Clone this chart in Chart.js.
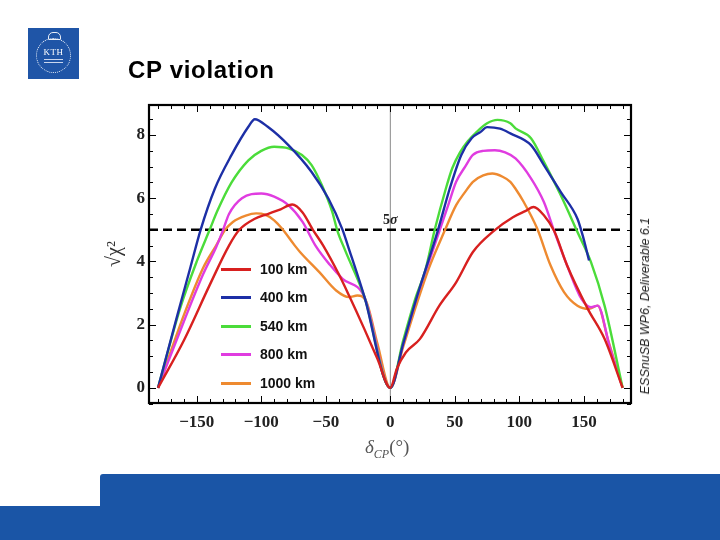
<!DOCTYPE html>
<html>
<head>
<meta charset="utf-8">
<script src="https://cdn.jsdelivr.net/npm/chart.js@4.4.1/dist/chart.umd.min.js"></script>
<style>
  body { margin: 0; background: #fff; }
  #slide { position: relative; width: 720px; height: 540px; overflow: hidden; background: #fff; }
  #c { position: absolute; left: 0; top: 0; }
  .logo { position: absolute; left: 28px; top: 28px; width: 51px; height: 51px; background: #1f55a7; }
  .logo .ring { position: absolute; left: 8px; top: 10px; width: 33px; height: 33px; border: 1.5px dotted #e8eef8; border-radius: 50%; }
  .logo .kth { position: absolute; left: 0; width: 51px; top: 19px; text-align: center; color: #fff; font: 9px "Liberation Serif", serif; letter-spacing: 0.5px; }
  .logo .sub { position: absolute; left: 16px; width: 19px; height: 1px; background: #c9d6ee; }
  .logo .crown { position: absolute; left: 20px; top: 4px; width: 11px; height: 6px; border: 1px solid #e8eef8; border-radius: 5px 5px 1px 1px; }
  .title { position: absolute; left: 128px; top: 58px; font: bold 24px "Liberation Sans", Arial, sans-serif; letter-spacing: 0.7px; line-height: 24px; color: #000; }
  .barTop { position: absolute; left: 100px; top: 474px; width: 620px; height: 66px; background: #1a55a6; border-top-left-radius: 3px; }
  .barLow { position: absolute; left: 0; top: 506px; width: 720px; height: 34px; background: #1a55a6; }
  .legend { position: absolute; left: 221px; top: 0; }
  .legend .row { position: absolute; left: 0; width: 120px; height: 20px; }
  .legend .sw { position: absolute; left: 0; top: 8px; width: 30px; height: 3px; }
  .legend .lb { position: absolute; left: 39px; top: 1px; font: bold 14px "Liberation Sans", Arial, sans-serif; color: #111; white-space: nowrap; }
  .xtitle { position: absolute; left: 365px; top: 436px; font: italic 19px "Liberation Serif", serif; color: #555; }
  .xtitle sub { font-size: 12px; }
  .xtitle span { font-style: normal; }
  .sigma { position: absolute; left: 383px; top: 212px; font: bold 14px "Liberation Serif", serif; color: #222; }
  .sigma i { font-style: italic; }
  .side { position: absolute; left: 645px; top: 306px; transform: translate(-50%, -50%) rotate(-90deg); font: italic 12.5px "Liberation Sans", Arial, sans-serif; color: #222; white-space: nowrap; }
</style>
</head>
<body>
<div id="slide">
  <canvas id="c" width="720" height="540"></canvas>
  <div class="logo">
    <div class="crown"></div>
    <div class="ring"></div>
    <div class="kth">KTH</div>
    <div class="sub" style="top:31px"></div>
    <div class="sub" style="top:34px"></div>
  </div>
  <div class="title">CP violation</div>
  <div class="sigma">5<i>σ</i></div>
  <div class="legend" id="legend"></div>
  <div class="xtitle">δ<sub>CP</sub><span>(°)</span></div>
  <div class="side">ESSnuSB WP6, Deliverable 6.1</div>
  <div class="barTop"></div>
  <div class="barLow"></div>
</div>
<script>
// δCP (deg) vs sqrt(chi^2)
const km100 = [[-180,0],[-160,1.5],[-140,3.25],[-125,4.5],[-117,5.0],[-105,5.35],[-95,5.5],[-85,5.65],[-76,5.8],[-68,5.55],[-60,5.0],[-52,4.5],[-40,3.6],[-32,2.92],[-20,1.85],[-10,0.92],[0,0],
  [5,0.6],[12,1.12],[23,1.55],[38,2.6],[51,3.34],[64,4.3],[80,4.96],[95,5.4],[105,5.6],[111,5.72],[119,5.46],[127,4.96],[137,3.87],[153,2.5],[166,1.55],[180,0]];
const km400 = [[-180,0],[-165,2.3],[-155,3.8],[-147,5.0],[-136,6.3],[-123,7.37],[-110,8.26],[-105,8.5],[-95,8.26],[-79,7.68],[-61,6.83],[-48,5.99],[-37,5.0],[-33,4.51],[-20,2.87],[0,0],
  [10,1.4],[20,2.8],[37,5.0],[46,6.3],[55,7.37],[63,7.9],[70,8.1],[75,8.25],[85,8.2],[93,8.05],[109,7.68],[119,7.05],[132,6.2],[145,5.35],[149,4.83],[154,4.03]];
const km540 = [[-180,0],[-163,2.5],[-150,4.0],[-140,5.0],[-134,5.6],[-123,6.5],[-110,7.2],[-100,7.5],[-90,7.63],[-79,7.58],[-68.5,7.37],[-61,7.05],[-53,6.41],[-45,5.57],[-41,4.97],[-35,4.35],[-20,2.87],[0,0],
  [10,1.5],[20,2.9],[27,3.7],[34.4,5.0],[43,6.3],[48,6.95],[54,7.45],[60,7.8],[67,8.1],[75,8.37],[83,8.48],[93,8.37],[97,8.21],[109,7.9],[119,7.15],[132,6.1],[145,4.93],[155.5,3.98],[166,2.6],[180,0]];
const km800 = [[-180,0],[-160,2.1],[-145,3.6],[-135,4.45],[-130,4.95],[-125,5.5],[-115,6.0],[-100,6.15],[-90,6.05],[-79,5.78],[-68,5.25],[-58,4.5],[-47,3.9],[-37,3.45],[-20,2.87],[0,0],
  [10,1.4],[20,2.8],[30,4.0],[38,4.96],[45,5.8],[51,6.52],[58,7.0],[64,7.37],[72,7.5],[81,7.52],[89,7.45],[97,7.26],[109,6.63],[119,5.88],[127,4.96],[137,3.87],[148,2.82],[155.5,2.55],[160.7,2.6],[170,1.3],[180,0]];
const km1000 = [[-180,0],[-160,2.3],[-145,3.8],[-135,4.5],[-128,5.0],[-122,5.25],[-112,5.45],[-104,5.52],[-97,5.48],[-90,5.3],[-84,5.04],[-74,4.5],[-70,4.3],[-55,3.66],[-42,3.08],[-32,2.87],[-25.5,2.92],[-19,2.76],[-10,1.4],[0,0],
  [10,1.3],[20,2.6],[30,3.8],[42,4.96],[51,5.78],[58,6.2],[64,6.52],[72,6.72],[79,6.78],[87,6.68],[93,6.52],[97,6.3],[103.4,5.88],[113.8,5.04],[124.2,3.87],[134.6,3.03],[145,2.6],[154,2.5],[160.7,2.6],[168.5,1.55],[180,0]];
const fiveSigma = [[-187,5],[180,5]];

const seriesNames = ["100 km", "400 km", "540 km", "800 km", "1000 km"];
const seriesData = [km100, km400, km540, km800, km1000];
const seriesColors = ["#d8201f", "#1d2fa6", "#4bdc3a", "#e03ce0", "#ee8a30"];
const xTicks = [-150, -100, -50, 0, 50, 100, 150];
const yTicks = [0, 2, 4, 6, 8];

const toXY = (arr) => arr.map(([x, y]) => ({ x, y }));

// legend rows (html)
const legendEl = document.getElementById("legend");
const legendTops = [260, 288, 317, 345, 374];
seriesNames.forEach((name, i) => {
  const row = document.createElement("div");
  row.className = "row";
  row.style.top = legendTops[i] + "px";
  row.innerHTML = `<div class="sw" style="background:${seriesColors[i]}"></div><div class="lb">${name}</div>`;
  legendEl.appendChild(row);
});

const minus = (v) => (v < 0 ? "\u2212" + Math.abs(v) : String(v));

// frame, inward ticks and the zero line, Mathematica style
const framePlugin = {
  id: "frame",
  beforeDatasetsDraw(chart) {
    const { ctx, chartArea: a, scales } = chart;
    const x0 = scales.x.getPixelForValue(0);
    ctx.save();
    ctx.strokeStyle = "#888";
    ctx.lineWidth = 1;
    ctx.beginPath();
    ctx.moveTo(x0, a.top);
    ctx.lineTo(x0, a.bottom);
    ctx.stroke();
    ctx.restore();
  },
  afterDraw(chart) {
    const { ctx, chartArea: a, scales } = chart;
    ctx.save();
    ctx.strokeStyle = "#000";
    ctx.lineWidth = 1;
    ctx.beginPath();
    for (let v = -180; v <= 180; v += 10) {
      const px = Math.round(scales.x.getPixelForValue(v)) + 0.5;
      const len = v % 50 === 0 ? 7 : 4;
      ctx.moveTo(px, a.bottom); ctx.lineTo(px, a.bottom - len);
      ctx.moveTo(px, a.top); ctx.lineTo(px, a.top + len);
    }
    for (let v = -0.5; v <= 8.9; v += 0.5) {
      const py = Math.round(scales.y.getPixelForValue(v)) + 0.5;
      const len = v % 2 === 0 ? 7 : 4;
      ctx.moveTo(a.left, py); ctx.lineTo(a.left + len, py);
      ctx.moveTo(a.right, py); ctx.lineTo(a.right - len, py);
    }
    ctx.stroke();
    ctx.lineWidth = 2.2;
    ctx.strokeRect(a.left, a.top, a.right - a.left, a.bottom - a.top);
    ctx.restore();
  },
};

const datasets = seriesData.map((d, i) => ({
  label: seriesNames[i],
  data: toXY(d),
  borderColor: seriesColors[i],
  borderWidth: 2.4,
  pointRadius: 0,
  fill: false,
  cubicInterpolationMode: "monotone",
  order: i,
}));
datasets.push({
  label: "5 sigma",
  data: toXY(fiveSigma),
  borderColor: "#000",
  borderWidth: 2.5,
  borderDash: [9, 5],
  pointRadius: 0,
  fill: false,
  order: 10,
});

const tickFont = { family: "'Liberation Serif', 'Times New Roman', serif", size: 17, weight: "bold" };

new Chart(document.getElementById("c").getContext("2d"), {
  type: "line",
  data: { datasets },
  options: {
    responsive: false,
    animation: false,
    devicePixelRatio: 1,
    layout: { padding: { left: 103, right: 89, top: 105, bottom: 107 } },
    plugins: { legend: { display: false }, tooltip: { enabled: false } },
    scales: {
      x: {
        type: "linear",
        min: -187,
        max: 186.5,
        grid: { display: false, drawTicks: false },
        border: { display: false },
        afterBuildTicks: (s) => { s.ticks = xTicks.map((v) => ({ value: v })); },
        afterFit: (s) => { s.height = 30; },
        ticks: { color: "#222", font: tickFont, padding: 9, maxRotation: 0, callback: (v) => minus(v) },
      },
      y: {
        type: "linear",
        min: -0.48,
        max: 8.95,
        grid: { display: false, drawTicks: false },
        border: { display: false },
        afterBuildTicks: (s) => { s.ticks = yTicks.map((v) => ({ value: v })); },
        afterFit: (s) => { s.width = 46; },
        ticks: { color: "#222", font: tickFont, padding: 4 },
        title: {
          display: true,
          text: "\u221A\u03C7\u00B2",
          color: "#333",
          padding: 0,
          font: { family: "'Liberation Serif', serif", size: 20 },
        },
      },
    },
  },
  plugins: [framePlugin],
});
</script>
</body>
</html>
